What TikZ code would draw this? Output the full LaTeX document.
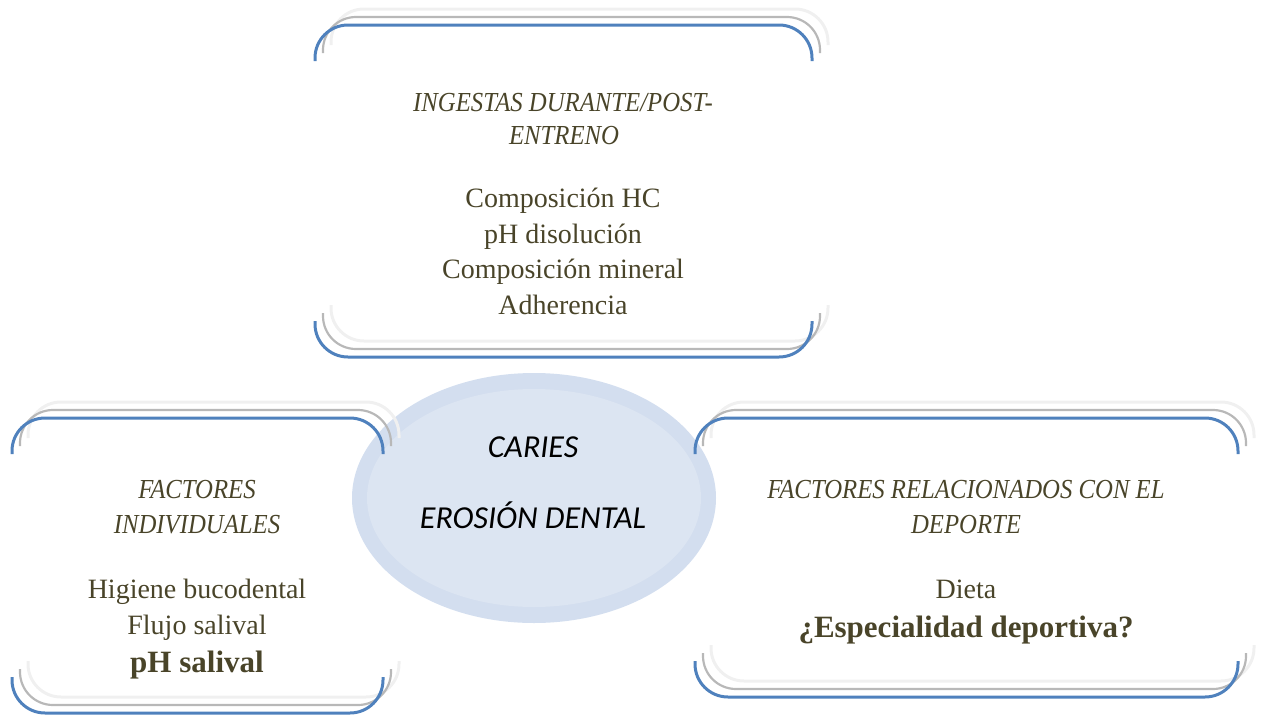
\documentclass[tikz,border=0pt]{standalone}
\usepackage{fontspec}
\setmainfont{Liberation Serif}
\newfontfamily\calib{Carlito}
\newfontfamily\hdrfont{Liberation Serif}[FakeStretch=0.9]
\usetikzlibrary{shapes.geometric}
\definecolor{txt}{HTML}{494429}
\definecolor{bblue}{HTML}{4F81BD}
\definecolor{sgray}{HTML}{B8B8B8}
\definecolor{lgray}{HTML}{F0F0F0}
\definecolor{ellout}{HTML}{D3DEEF}
\definecolor{ellin}{HTML}{DCE5F2}
\tikzset{
  brk/.style={line width=3pt, rounded corners=33pt},
  hdr/.style={anchor=base, text=txt, inner sep=0pt, font=\fontsize{27.5}{33}\hdrfont\itshape},
  item/.style={anchor=base, text=txt, inner sep=0pt, font=\fontsize{28}{34}\selectfont},
  bitem/.style={anchor=base, text=txt, inner sep=0pt, font=\fontsize{31}{36}\selectfont\bfseries},
  ctr/.style={anchor=base, text=black, inner sep=0pt, font=\fontsize{32}{38}\calib\itshape},
}
\newcommand\myBracket[4]{%
  \foreach \o/\c/\w in {16/lgray/3pt,8/sgray/2.2pt,0/bblue/3pt}{%
    \draw[brk,\c,line width=\w] (#1+\o,#3+36-\o) -- (#1+\o,#3-\o) -- (#2+\o,#3-\o) -- (#2+\o,#3+36-\o);
    \draw[brk,\c,line width=\w] (#1+\o,#4-36-\o) -- (#1+\o,#4-\o) -- (#2+\o,#4-\o) -- (#2+\o,#4-36-\o);
  }}
\begin{document}
\begin{tikzpicture}[x=1pt,y=-1pt]
\useasboundingbox (0,0) rectangle (1261,715);
% central ellipse
\node[ellipse, fill=ellout, minimum width=364pt, minimum height=250pt, inner sep=0pt] (eo) at (534,498) {};
\node[ellipse, fill=ellin, minimum width=334pt, minimum height=218pt, inner sep=0pt] (ei) at (534,498) {};
% brackets
\myBracket{315}{812}{25}{357}
\myBracket{12}{383}{418}{713}
\myBracket{695}{1238}{418}{697}
% ellipse text
\node[ctr] (c1) at (533,457) {CARIES};
\node[ctr] (c2) at (533,528) {EROSIÓN DENTAL};
% top box
\node[hdr] (t1) at (563,111) {INGESTAS DURANTE/POST-};
\node[hdr] (t2) at (564,144) {ENTRENO};
\node[item] (t3) at (563,207) {Composición HC};
\node[item] (t4) at (563,243) {pH disolución};
\node[item] (t5) at (563,278) {Composición mineral};
\node[item] (t6) at (563,314) {Adherencia};
% left box
\node[hdr] (l1) at (197,498) {FACTORES};
\node[hdr] (l2) at (197,533) {INDIVIDUALES};
\node[item] (l3) at (197,598) {Higiene bucodental};
\node[item] (l4) at (197,634) {Flujo salival};
\node[bitem] (l5) at (197,672) {pH salival};
% right box
\node[hdr] (r1) at (966,498) {FACTORES RELACIONADOS CON EL};
\node[hdr] (r2) at (966,533) {DEPORTE};
\node[item] (r3) at (966,598) {Dieta};
\node[bitem] (r4) at (966,637) {¿Especialidad deportiva?};
\end{tikzpicture}
\end{document}
